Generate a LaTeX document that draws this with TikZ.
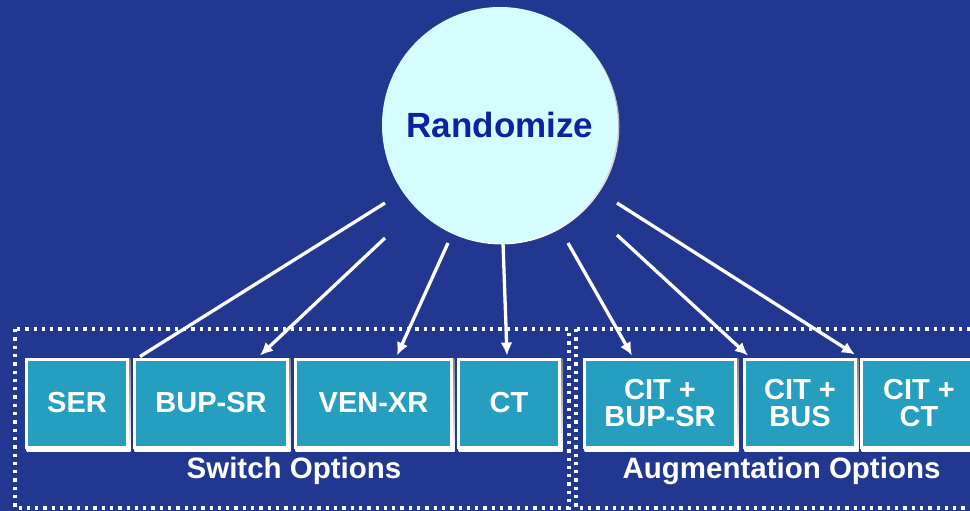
\documentclass[tikz,border=0pt]{standalone}
\usepackage{fontspec}
\setmainfont{Liberation Sans}
\usetikzlibrary{arrows.meta,calc}
\definecolor{bg}{RGB}{34,56,144}
\definecolor{boxfill}{RGB}{38,158,191}
\definecolor{circfill}{RGB}{213,253,255}
\definecolor{randtext}{RGB}{12,34,160}
\definecolor{shade}{RGB}{22,40,112}
\begin{document}
\begin{tikzpicture}[x=1pt,y=-1pt,
  opt/.style={draw=white,line width=3pt,fill=boxfill,minimum height=88pt,
    inner sep=0pt,font=\fontsize{29}{27.5}\selectfont\bfseries,text=white,align=center},
  grp/.style={draw=white,line width=3.3pt,dash pattern=on 3.3pt off 5pt},
  grplabel/.style={font=\fontsize{29.5}{29.5}\selectfont\bfseries,text=white,anchor=base,inner sep=0pt},
  link/.style={draw=white,line width=3.3pt},
  arrowlink/.style={link,-{Latex[length=13pt,width=12pt]}},
]
% background and page size
\fill[bg] (0,0) rectangle (970,511);
\useasboundingbox (0,0) rectangle (970,511);

% group frames
\draw[grp] (15,329) rectangle (569,508);
\draw[grp] (576,329) rectangle (980,508);

% option boxes with a faint shadow underneath
\foreach \cx/\w in {77/104,211/156,373.5/159,509/104,660/154,800/114,919/118}
  \fill[shade] (\cx-\w/2+1.5,358) rectangle (\cx+\w/2+1.5,451);
\node[opt,minimum width=101pt] (ser)  at (77,403)    {SER};
\node[opt,minimum width=153pt] (bup)  at (211,403)   {BUP-SR};
\node[opt,minimum width=156pt] (ven)  at (373.5,403) {VEN-XR};
\node[opt,minimum width=101pt] (ct)   at (509,403)   {CT};
\node[opt,minimum width=151pt] (cbup) at (660,403)   {CIT +\\BUP-SR};
\node[opt,minimum width=111pt] (cbus) at (800,403)   {CIT +\\BUS};
\node[opt,minimum width=115pt] (cct)  at (919,403)   {CIT +\\CT};

% group labels
\node[grplabel] (swl)  at (294,478)   {Switch Options};
\node[grplabel] (augl) at (781.5,478) {Augmentation Options};

% central circle
\fill[shade] (501.5,126.5) circle (118);
\node[circle,fill=circfill,minimum size=236pt,inner sep=0pt,
  font=\fontsize{35}{35}\selectfont\bfseries,text=randtext] (rand) at (500,125) {Randomize};

% connector start points just outside the circle
\coordinate (s1) at (385,203);
\coordinate (s2) at (385,238);
\coordinate (s3) at (448,243);
\coordinate (s4) at (503,243);
\coordinate (s5) at (568,243);
\coordinate (s6) at (617,235);
\coordinate (s7) at (617,203);

\draw[link] (s1) -- ([xshift=-71pt,yshift=1pt]bup.north);
\draw[arrowlink] (s2) -- ([xshift=49pt,yshift=2pt]bup.north);
\draw[arrowlink] (s3) -- ([xshift=23.5pt,yshift=2pt]ven.north);
\draw[arrowlink] (s4) -- ([xshift=-2pt,yshift=2pt]ct.north);
\draw[arrowlink] (s5) -- ([xshift=-28pt,yshift=2pt]cbup.north);
\draw[arrowlink] (s6) -- ([xshift=-52pt,yshift=2pt]cbus.north);
\draw[arrowlink] (s7) -- ([xshift=55pt,yshift=3pt]cbus.north);
\end{tikzpicture}
\end{document}
